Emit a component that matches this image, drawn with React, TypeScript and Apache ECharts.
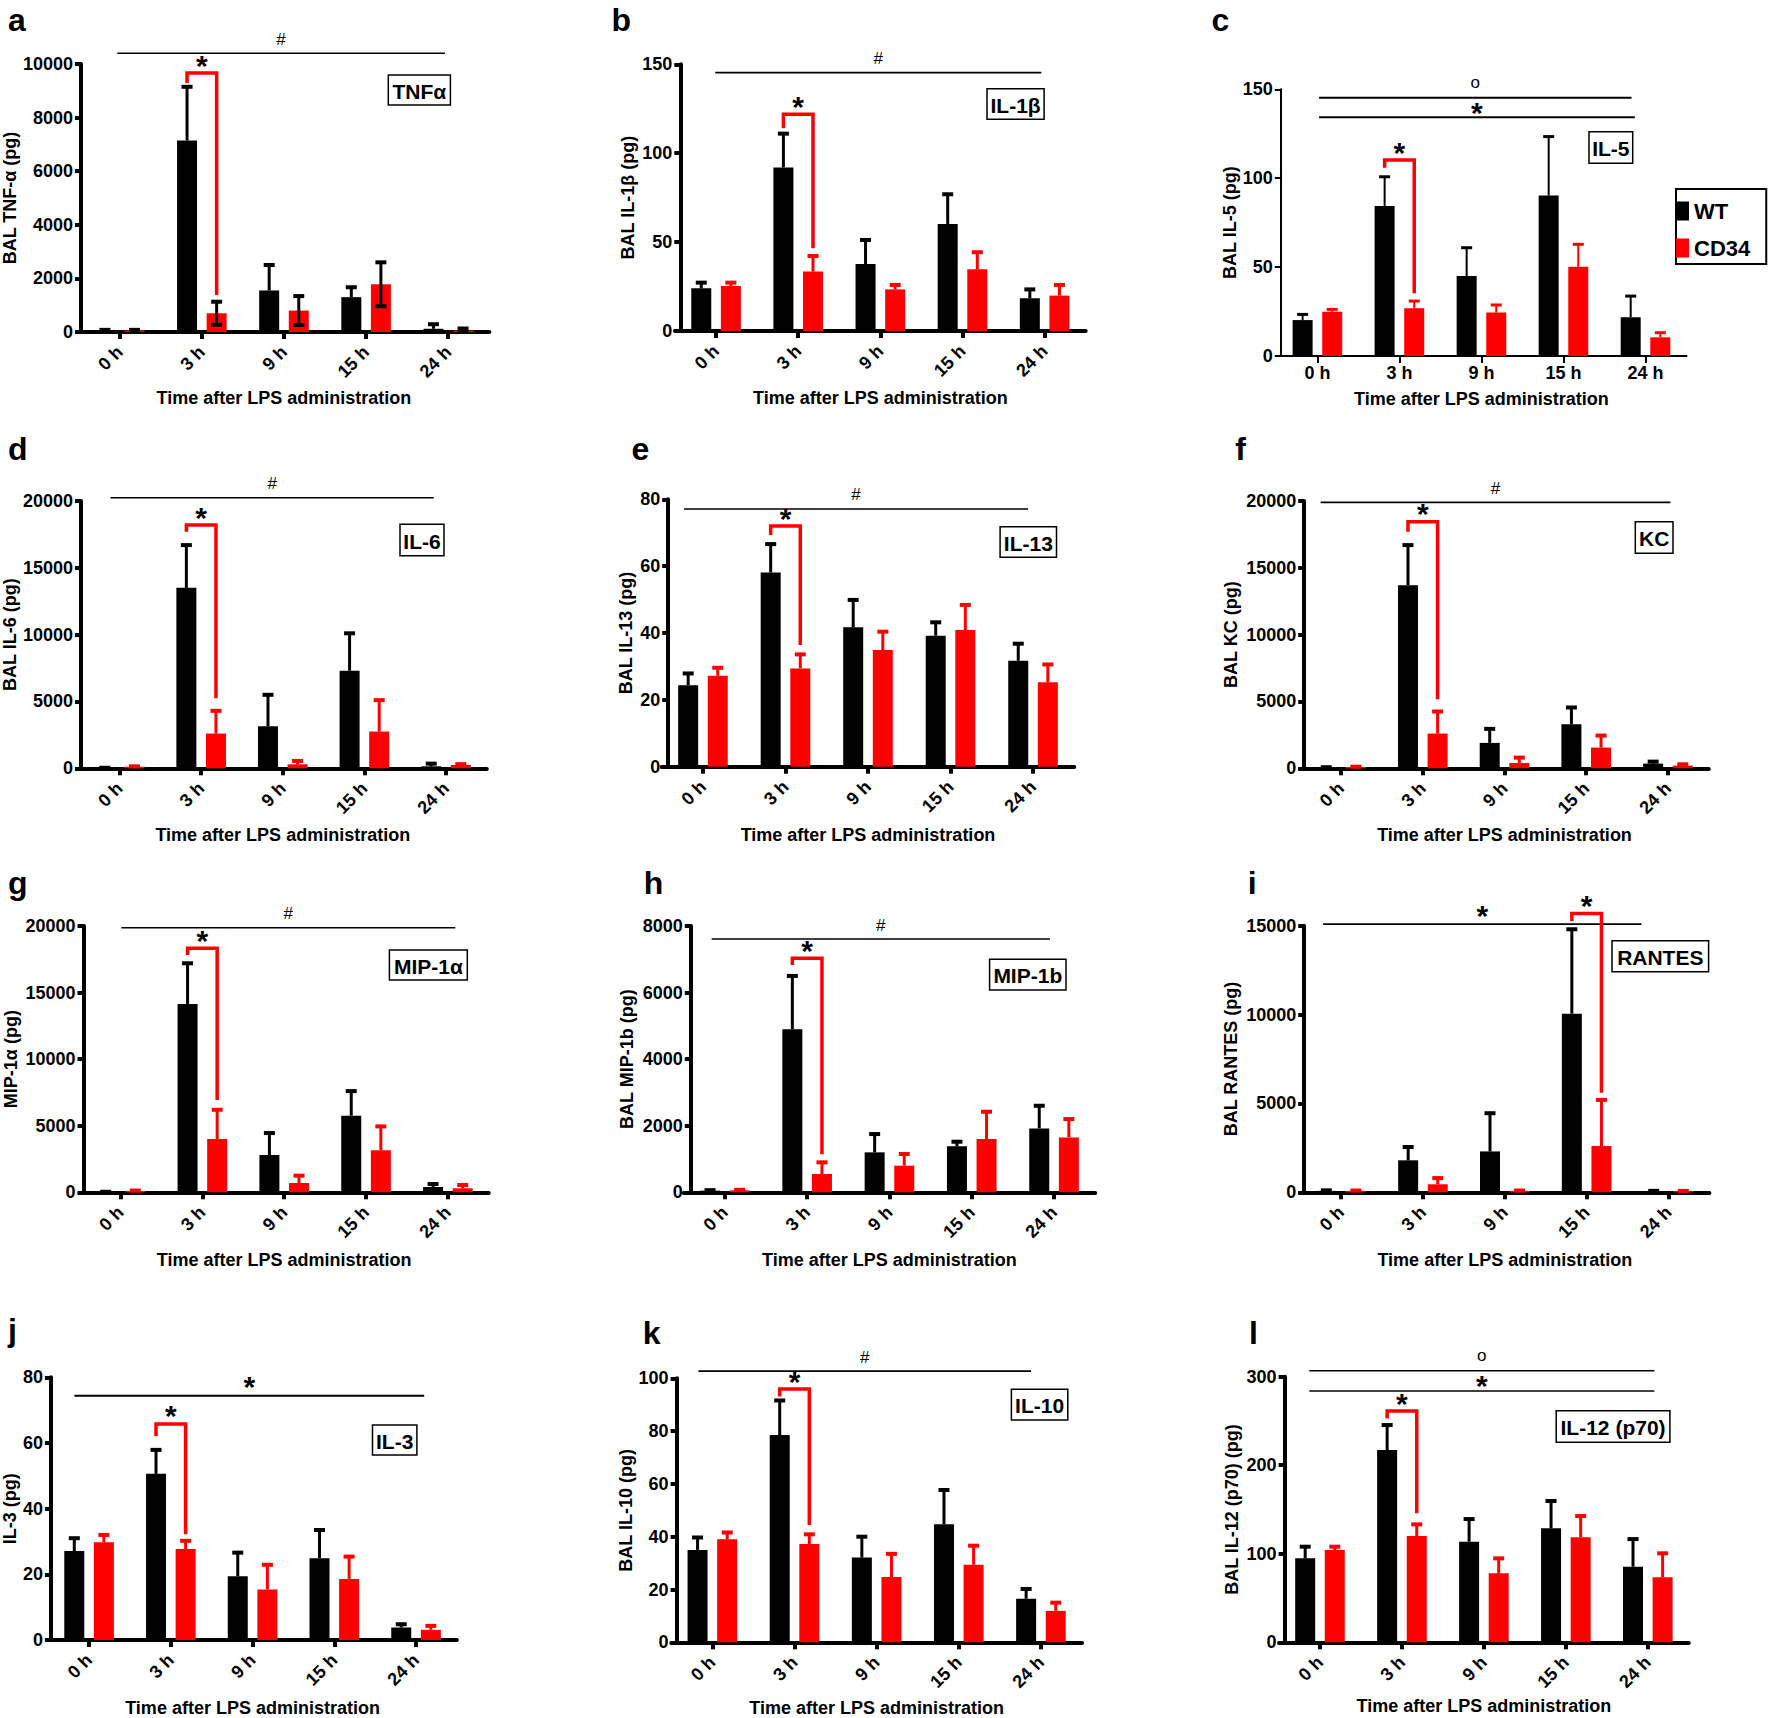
import React, { useEffect, useRef } from 'react';
import * as echarts from 'echarts';

const FONT = '"Liberation Sans", Arial, Helvetica, sans-serif';
const CATEGORIES = ['0 h', '3 h', '9 h', '15 h', '24 h'];
const X_TITLE = 'Time after LPS administration';

// a  TNFα
const tnfTicks = [0, 2000, 4000, 6000, 8000, 10000];
const tnfWT = [60, 7150, 1550, 1300, 120];
const tnfWTsem = [20, 2000, 950, 370, 170];
const tnfCD34 = [60, 700, 800, 1780, 50];
const tnfCD34sem = [20, 430, 540, 820, 80];
// b  IL-1β
const il1bTicks = [0, 50, 100, 150];
const il1bWT = [24, 92, 37.7, 60.2, 18.4];
const il1bWTsem = [3.2, 19, 13.5, 16.7, 5];
const il1bCD34 = [25.3, 33.4, 23.4, 34.7, 19.9];
const il1bCD34sem = [1.9, 8.8, 2.5, 9.6, 6];
// c  IL-5
const il5Ticks = [0, 50, 100, 150];
const il5WT = [20.2, 84.4, 45, 90.2, 21.8];
const il5WTsem = [3.2, 16.4, 15.9, 33.2, 11.9];
const il5CD34 = [24.9, 26.8, 24.4, 50.2, 10.5];
const il5CD34sem = [1.3, 4.1, 4.3, 12.6, 2.6];
// d  IL-6
const il6Ticks = [0, 5000, 10000, 15000, 20000];
const il6WT = [30, 13500, 3150, 7300, 150];
const il6WTsem = [10, 3200, 2350, 2800, 200];
const il6CD34 = [120, 2600, 300, 2750, 250];
const il6CD34sem = [30, 1700, 250, 2350, 60];
// e  IL-13
const il13Ticks = [0, 20, 40, 60, 80];
const il13WT = [24.4, 58.1, 41.7, 39.2, 31.7];
const il13WTsem = [3.5, 8.5, 8.2, 4.0, 5.1];
const il13CD34 = [27.2, 29.4, 34.9, 40.9, 25.3];
const il13CD34sem = [2.4, 4.2, 5.5, 7.5, 5.3];
// f  KC
const kcTicks = [0, 5000, 10000, 15000, 20000];
const kcWT = [60, 13700, 1900, 3300, 350];
const kcWTsem = [20, 3000, 1050, 1250, 150];
const kcCD34 = [100, 2600, 400, 1550, 200];
const kcCD34sem = [20, 1650, 400, 900, 100];
// g  MIP-1α
const mip1aTicks = [0, 5000, 10000, 15000, 20000];
const mip1aWT = [30, 14150, 2800, 5750, 400];
const mip1aWTsem = [10, 3050, 1650, 1850, 225];
const mip1aCD34 = [100, 4000, 700, 3150, 300];
const mip1aCD34sem = [30, 2200, 550, 1800, 250];
// h  MIP-1b
const mip1bTicks = [0, 2000, 4000, 6000, 8000];
const mip1bWT = [50, 4900, 1200, 1380, 1920];
const mip1bWTsem = [15, 1600, 550, 140, 680];
const mip1bCD34 = [60, 550, 800, 1600, 1650];
const mip1bCD34sem = [15, 350, 350, 820, 550];
// i  RANTES
const rantesTicks = [0, 5000, 10000, 15000];
const rantesWT = [80, 1800, 2300, 10050, 60];
const rantesWTsem = [30, 750, 2150, 4750, 20];
const rantesCD34 = [80, 450, 80, 2600, 60];
const rantesCD34sem = [20, 350, 20, 2600, 20];
// j  IL-3
const il3Ticks = [0, 20, 40, 60, 80];
const il3WT = [27.1, 50.6, 19.4, 24.9, 3.8];
const il3WTsem = [3.9, 7.3, 7.2, 8.6, 1.0];
const il3CD34 = [29.8, 27.7, 15.4, 18.6, 3.1];
const il3CD34sem = [2.2, 2.5, 7.5, 6.8, 1.2];
// k  IL-10
const il10Ticks = [0, 20, 40, 60, 80, 100];
const il10WT = [35, 78.5, 32.1, 44.7, 16.5];
const il10WTsem = [4.7, 13.1, 7.9, 13.0, 3.7];
const il10CD34 = [39, 37.2, 24.7, 29.4, 11.9];
const il10CD34sem = [2.6, 3.7, 8.8, 7.2, 3.1];
// l  IL-12 (p70)
const il12Ticks = [0, 100, 200, 300];
const il12WT = [94.8, 217.1, 113.6, 128.7, 85.4];
const il12WTsem = [13.2, 28.3, 25.6, 30.9, 31.2];
const il12CD34 = [104.2, 120, 77.9, 118.6, 73.4];
const il12CD34sem = [3.8, 13.2, 16.9, 24, 27.1];

// significance annotations (values in data units, x in category units)
const SIG: any = {
  a: { lines: [{ y: 10400, x0: -0.03, x1: 3.96, label: '#' }], bracket: { cat: 1, top: 9660, lb: 9290, rb: 1380 } },
  b: { lines: [{ y: 145.3, x0: -0.01, x1: 3.96, label: '#' }], bracket: { cat: 1, top: 121.9, lb: 114, rb: 46.5 } },
  c: { lines: [{ y: 145.3, x0: 0.02, x1: 3.83, label: 'o' }, { y: 134.3, x0: 0.02, x1: 3.87, label: '*', mid: true }], bracket: { cat: 1, top: 110.2, lb: 105.9, rb: 35.3 } },
  d: { lines: [{ y: 20240, x0: -0.11, x1: 3.85, label: '#' }], bracket: { cat: 1, top: 18200, lb: 17700, rb: 5240 } },
  e: { lines: [{ y: 77.1, x0: -0.23, x1: 3.94, label: '#' }], bracket: { cat: 1, top: 72, lb: 69.3, rb: 36.4 } },
  f: { lines: [{ y: 19900, x0: -0.25, x1: 4.03, label: '#' }], bracket: { cat: 1, top: 18450, lb: 17700, rb: 5160 } },
  g: { lines: [{ y: 19870, x0: 0.01, x1: 4.09, label: '#' }], bracket: { cat: 1, top: 18320, lb: 17820, rb: 6930 } },
  h: { lines: [{ y: 7608, x0: -0.16, x1: 3.95, label: '#' }], bracket: { cat: 1, top: 7030, lb: 6830, rb: 1140 } },
  i: { lines: [{ y: 15090, x0: -0.22, x1: 3.67, label: '*' }], bracket: { cat: 3, top: 15690, lb: 15260, rb: 5600 } },
  j: { lines: [{ y: 74.4, x0: -0.18, x1: 4.1, label: '*' }], bracket: { cat: 1, top: 65.8, lb: 62.1, rb: 32.2 } },
  k: { lines: [{ y: 102.7, x0: -0.17, x1: 3.88, label: '#' }], bracket: { cat: 1, top: 95.9, lb: 93.1, rb: 44.4 } },
  l: { lines: [{ y: 306.7, x0: -0.13, x1: 4.08, label: 'o' }, { y: 283.8, x0: -0.13, x1: 4.08, label: '*', mid: true }], bracket: { cat: 1, top: 261.2, lb: 252.9, rb: 145.7 } },
};

const PANELS = [
  { id: 'a', tag: 'TNFα', yName: 'BAL TNF-α (pg)', ticks: tnfTicks, wt: tnfWT, wtSem: tnfWTsem, cd: tnfCD34, cdSem: tnfCD34sem, cdErrBlack: true },
  { id: 'b', tag: 'IL-1β', yName: 'BAL IL-1β (pg)', ticks: il1bTicks, wt: il1bWT, wtSem: il1bWTsem, cd: il1bCD34, cdSem: il1bCD34sem },
  { id: 'c', tag: 'IL-5', yName: 'BAL IL-5 (pg)', ticks: il5Ticks, wt: il5WT, wtSem: il5WTsem, cd: il5CD34, cdSem: il5CD34sem },
  { id: 'd', tag: 'IL-6', yName: 'BAL IL-6 (pg)', ticks: il6Ticks, wt: il6WT, wtSem: il6WTsem, cd: il6CD34, cdSem: il6CD34sem },
  { id: 'e', tag: 'IL-13', yName: 'BAL IL-13 (pg)', ticks: il13Ticks, wt: il13WT, wtSem: il13WTsem, cd: il13CD34, cdSem: il13CD34sem },
  { id: 'f', tag: 'KC', yName: 'BAL KC (pg)', ticks: kcTicks, wt: kcWT, wtSem: kcWTsem, cd: kcCD34, cdSem: kcCD34sem },
  { id: 'g', tag: 'MIP-1α', yName: 'MIP-1α (pg)', ticks: mip1aTicks, wt: mip1aWT, wtSem: mip1aWTsem, cd: mip1aCD34, cdSem: mip1aCD34sem },
  { id: 'h', tag: 'MIP-1b', yName: 'BAL MIP-1b (pg)', ticks: mip1bTicks, wt: mip1bWT, wtSem: mip1bWTsem, cd: mip1bCD34, cdSem: mip1bCD34sem },
  { id: 'i', tag: 'RANTES', yName: 'BAL RANTES (pg)', ticks: rantesTicks, wt: rantesWT, wtSem: rantesWTsem, cd: rantesCD34, cdSem: rantesCD34sem },
  { id: 'j', tag: 'IL-3', yName: 'IL-3 (pg)', ticks: il3Ticks, wt: il3WT, wtSem: il3WTsem, cd: il3CD34, cdSem: il3CD34sem },
  { id: 'k', tag: 'IL-10', yName: 'BAL IL-10 (pg)', ticks: il10Ticks, wt: il10WT, wtSem: il10WTsem, cd: il10CD34, cdSem: il10CD34sem },
  { id: 'l', tag: 'IL-12 (p70)', yName: 'BAL IL-12 (p70) (pg)', ticks: il12Ticks, wt: il12WT, wtSem: il12WTsem, cd: il12CD34, cdSem: il12CD34sem },
];

// layout (px)
const LAYOUT: any = {
  a: { gl: 78.6, gw: 410.7, ax: 80.9, top: 64, y0: 332, yGap: 59, xGap: 57, rot: 45, lw: 4, letter: [7.9, 30], box: [388.3, 75, 62.1, 30] },
  b: { gl: 675, gw: 410.7, ax: 680.3, top: 64.3, y0: 331, yGap: 43.5, xGap: 58, rot: 45, lw: 4, letter: [611.4, 30], box: [987, 88.7, 57.1, 30.6] },
  c: { gl: 1276.4, gw: 410.1, ax: 1280.8, top: 89.3, y0: 356, yGap: 41, xGap: 34, rot: 0, lw: 2, letter: [1211.6, 30], box: [1589, 131.7, 43.7, 31.6] },
  d: { gl: 77.6, gw: 409.2, ax: 79.8, top: 501, y0: 768.3, yGap: 61.5, xGap: 57.5, rot: 45, lw: 4, letter: [7.9, 459], box: [400, 524.3, 44, 31.4] },
  e: { gl: 661.7, gw: 412.6, ax: 668.2, top: 499.3, y0: 766.7, yGap: 33.3, xGap: 59, rot: 45, lw: 4, letter: [631.4, 459], box: [1000.1, 526.7, 56.4, 30.6] },
  f: { gl: 1300.2, gw: 408.6, ax: 1304.2, top: 501, y0: 768.3, yGap: 63.8, xGap: 57.5, rot: 45, lw: 4, letter: [1235.3, 459], box: [1635.3, 521.7, 37.7, 31.6] },
  g: { gl: 79.6, gw: 409.2, ax: 83.5, top: 926, y0: 1192.3, yGap: 63.8, xGap: 58.5, rot: 45, lw: 4, letter: [7.9, 893], box: [389.4, 950, 77.9, 30] },
  h: { gl: 683.7, gw: 411.5, ax: 690.8, top: 926, y0: 1192.3, yGap: 55.3, xGap: 58.5, rot: 45, lw: 4, letter: [643.8, 893], box: [989.6, 959.3, 76.4, 30.7] },
  i: { gl: 1300.2, gw: 409.2, ax: 1304.2, top: 925.7, y0: 1192.3, yGap: 64.4, xGap: 58.5, rot: 45, lw: 4, letter: [1247.7, 893], box: [1612, 940.7, 96.6, 31] },
  j: { gl: 46.2, gw: 410.7, ax: 48.9, top: 1377.3, y0: 1642.7, yGap: 30.5, xGap: 59, rot: 45, lw: 4, letter: [7.9, 1340], box: [372.5, 1425, 44.4, 30] },
  k: { gl: 671.3, gw: 410.7, ax: 676.6, top: 1378.3, y0: 1645, yGap: 41.2, xGap: 56.7, rot: 45, lw: 4, letter: [642.7, 1343], box: [1011.4, 1389.3, 56.4, 30.7] },
  l: { gl: 1279, gw: 409.8, ax: 1284.6, top: 1376.7, y0: 1642.3, yGap: 44, xGap: 55, rot: 45, lw: 4, letter: [1248.9, 1343], box: [1556.2, 1410.7, 113.7, 31.6] },
};

const BAR_W = 20;
const BAR_GAP = 0.48;
const OFF = (BAR_W * (1 + BAR_GAP)) / 2;
const RED = '#ff0000';
const FS = 18;

function errRender(sign: number, color: string, both: boolean, lw: number) {
  return (params: any, api: any) => {
    const cat = api.value(0);
    const mean = api.value(1);
    const sem = api.value(2);
    const base = api.coord([cat, mean]);
    const top = api.coord([cat, mean + sem]);
    const x = base[0] + sign * OFF;
    const children: any[] = [
      { type: 'line', shape: { x1: x, y1: base[1], x2: x, y2: top[1] }, style: { stroke: color, lineWidth: lw } },
      { type: 'line', shape: { x1: x - 5.5, y1: top[1], x2: x + 5.5, y2: top[1] }, style: { stroke: color, lineWidth: lw + 1 } },
    ];
    if (both) {
      const bot = api.coord([cat, Math.max(0, mean - sem)]);
      children.push({ type: 'line', shape: { x1: x, y1: base[1], x2: x, y2: bot[1] }, style: { stroke: color, lineWidth: lw } });
      children.push({ type: 'line', shape: { x1: x - 5.5, y1: bot[1], x2: x + 5.5, y2: bot[1] }, style: { stroke: color, lineWidth: lw + 1 } });
    }
    return { type: 'group', children };
  };
}

function glyph(label: string, x: number, y: number) {
  let font = `17px ${FONT}`;
  let dy = 0;
  if (label === '*') { font = `bold 30px ${FONT}`; dy = 5; }
  if (label === 'o') { font = `17px ${FONT}`; dy = -1; }
  return {
    type: 'text', x, y: y + dy,
    style: { text: label, font, fill: '#000', textAlign: 'center', textVerticalAlign: 'middle', align: 'center', verticalAlign: 'middle' },
  };
}

function sigRender(sig: any, lineW: number) {
  return (params: any, api: any) => {
    const a0 = api.coord([0, 0]);
    const a1 = api.coord([1, 0]);
    const band = a1[0] - a0[0];
    const X = (c: number) => a0[0] + c * band;
    const Y = (v: number) => api.coord([0, v])[1];
    const children: any[] = [];
    let prevY = 0;
    sig.lines.forEach((ln: any) => {
      const y = Y(ln.y);
      children.push({ type: 'line', shape: { x1: X(ln.x0), y1: y, x2: X(ln.x1), y2: y }, style: { stroke: '#000', lineWidth: lineW } });
      const cx = (X(ln.x0) + X(ln.x1)) / 2;
      if (ln.label) {
        const ty = ln.mid ? (prevY + y) / 2 : y - 14;
        children.push(glyph(ln.label, cx, ty));
      }
      prevY = y;
    });
    const b = sig.bracket;
    if (b) {
      const xl = X(b.cat) - OFF;
      const xr = X(b.cat) + OFF;
      const yt = Y(b.top);
      children.push({
        type: 'polyline',
        shape: { points: [[xl, Y(b.lb)], [xl, yt], [xr, yt], [xr, Y(b.rb)]] },
        style: { stroke: RED, lineWidth: 3.5, fill: 'none' },
      });
      children.push(glyph('*', (xl + xr) / 2, yt - 13));
    }
    return { type: 'group', children };
  };
}

function buildOption() {
  const grid: any[] = [];
  const xAxis: any[] = [];
  const yAxis: any[] = [];
  const series: any[] = [];
  const elements: any[] = [];
  const bold = { fontWeight: 'bold', fontSize: FS, color: '#000', fontFamily: FONT };

  PANELS.forEach((p, i) => {
    const L = LAYOUT[p.id];
    const ticks = p.ticks;
    grid.push({ left: L.gl, top: L.top, width: L.gw, height: L.y0 - L.top, containLabel: false });
    xAxis.push({
      gridIndex: i, type: 'category', data: CATEGORIES, boundaryGap: true,
      name: X_TITLE, nameLocation: 'middle', nameGap: L.xGap, nameTextStyle: bold,
      axisLine: { show: true, lineStyle: { color: '#000', width: L.lw } },
      axisTick: { show: true, alignWithLabel: true, length: 7, lineStyle: { color: '#000', width: L.lw } },
      axisLabel: { ...bold, interval: 0, rotate: L.rot, margin: L.rot ? 17 : 8 },
      splitLine: { show: false },
    });
    yAxis.push({
      gridIndex: i, type: 'value', min: ticks[0], max: ticks[ticks.length - 1], interval: ticks[1] - ticks[0],
      offset: L.gl - L.ax,
      name: p.yName, nameLocation: 'middle', nameRotate: 90, nameGap: L.yGap, nameTextStyle: bold,
      axisLine: { show: true, lineStyle: { color: '#000', width: L.lw } },
      axisTick: { show: true, length: 6, lineStyle: { color: '#000', width: L.lw } },
      axisLabel: { ...bold, margin: 8, formatter: (v: number) => String(v) },
      splitLine: { show: false },
    });
    series.push({ type: 'bar', name: 'WT', xAxisIndex: i, yAxisIndex: i, data: p.wt, barWidth: BAR_W, barGap: `${BAR_GAP * 100}%`, itemStyle: { color: '#000' }, silent: true });
    series.push({ type: 'bar', name: 'CD34', xAxisIndex: i, yAxisIndex: i, data: p.cd, barWidth: BAR_W, barGap: `${BAR_GAP * 100}%`, itemStyle: { color: RED }, silent: true });
    const errLw = L.lw === 2 ? 2 : 3;
    series.push({
      type: 'custom', xAxisIndex: i, yAxisIndex: i, silent: true, clip: false, z: 3,
      data: p.wt.map((v, k) => [k, v, p.wtSem[k]]),
      renderItem: errRender(-1, '#000', false, errLw),
    });
    series.push({
      type: 'custom', xAxisIndex: i, yAxisIndex: i, silent: true, clip: false, z: 3,
      data: p.cd.map((v, k) => [k, v, p.cdSem[k]]),
      renderItem: errRender(1, (p as any).cdErrBlack ? '#000' : RED, !!(p as any).cdErrBlack, errLw),
    });
    series.push({
      type: 'custom', xAxisIndex: i, yAxisIndex: i, silent: true, clip: false, z: 4,
      data: [[0, 0]],
      renderItem: sigRender(SIG[p.id], p.id === 'c' || p.id === 'j' ? 2 : 1.6),
    });

    elements.push({
      type: 'text', x: L.letter[0], y: L.letter[1] - 10,
      style: { text: p.id, font: `bold 32px ${FONT}`, fill: '#000', textAlign: 'left', textVerticalAlign: 'middle', align: 'left', verticalAlign: 'middle' },
    });
    const [bx, by, bw, bh] = L.box;
    elements.push({ type: 'rect', shape: { x: bx, y: by, width: bw, height: bh }, style: { fill: '#fff', stroke: '#000', lineWidth: 1.5 } });
    elements.push({
      type: 'text', x: bx + bw / 2, y: by + bh / 2 + 1,
      style: { text: p.tag, font: `bold 21px ${FONT}`, fill: '#000', textAlign: 'center', textVerticalAlign: 'middle', align: 'center', verticalAlign: 'middle' },
    });
  });

  return {
    animation: false,
    backgroundColor: '#fff',
    textStyle: { fontFamily: FONT },
    grid, xAxis, yAxis, series,
    legend: {
      show: true, orient: 'vertical', left: 1676, top: 189,
      padding: [11, 16, 5, 0], itemGap: 15, itemWidth: 13, itemHeight: 19, icon: 'rect',
      borderColor: '#000', borderWidth: 2, selectedMode: false,
      textStyle: { fontSize: 22, fontWeight: 'bold', color: '#000', fontFamily: FONT },
      data: [
        { name: 'WT', itemStyle: { color: '#000' } },
        { name: 'CD34', itemStyle: { color: RED } },
      ],
    },
    graphic: { elements },
  };
}

export default function App() {
  const ref = useRef<HTMLDivElement>(null);
  useEffect(() => {
    if (!ref.current) return;
    const chart = echarts.init(ref.current, null, { renderer: 'svg' });
    chart.setOption(buildOption() as any);
    return () => chart.dispose();
  }, []);
  return (
    <div
      ref={ref}
      style={{ position: 'absolute', left: 0, top: 0, width: 1770, height: 1718, background: '#fff' }}
    />
  );
}
